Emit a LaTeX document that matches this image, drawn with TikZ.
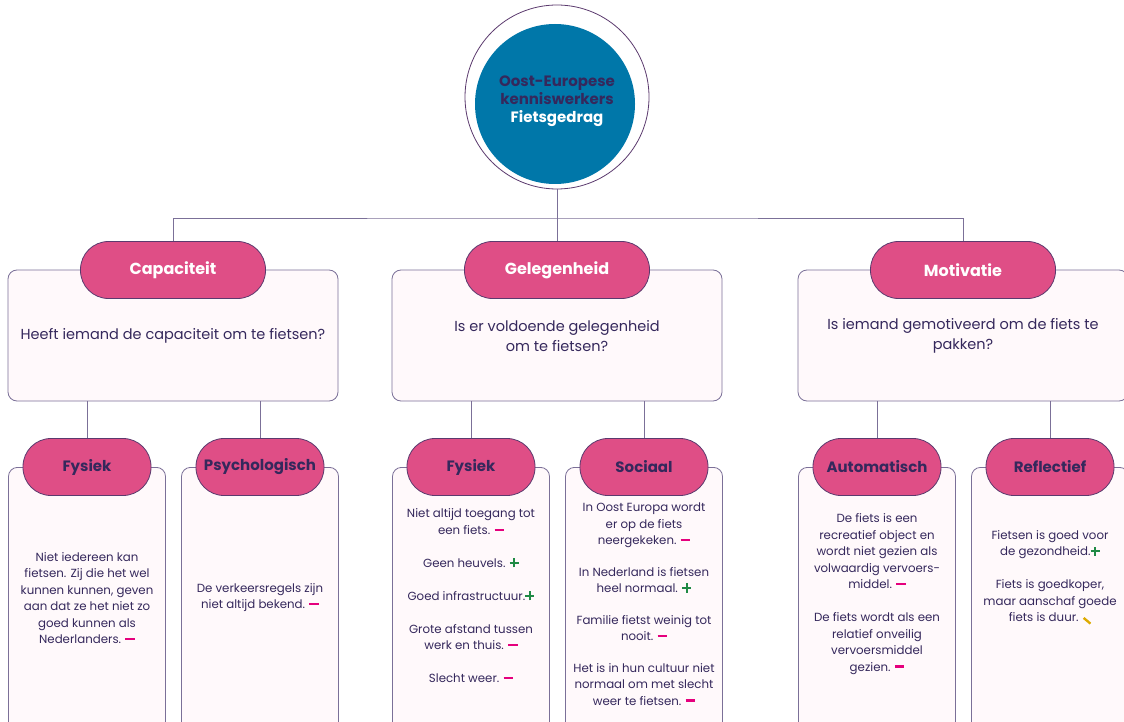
\documentclass[tikz,border=0pt]{standalone}
\usepackage{fontspec}
\setmainfont{Poppins}
\definecolor{kernblauw}{HTML}{0077A9}
\definecolor{pilroze}{HTML}{DF4E86}
\definecolor{pilrand}{HTML}{5B3A6E}
\definecolor{vakkleur}{HTML}{FFF9FB}
\definecolor{randkleur}{HTML}{7B7098}
\definecolor{tekstpaars}{HTML}{35285C}
\definecolor{minroze}{HTML}{E5007D}
\definecolor{plusgroen}{HTML}{1F8A45}
\definecolor{twijfelgeel}{HTML}{DDAA00}
% plus, min en twijfel achter een uitspraak
\newcommand{\minteken}{\textcolor{minroze}{\rule[0.3em]{0.8em}{0.19em}}}
\newcommand{\plusteken}{\textcolor{plusgroen}{\rule[0.3em]{0.78em}{0.18em}\kern-0.48em\rule[0.0em]{0.18em}{0.78em}\kern0.3em}}
\newcommand{\twijfelteken}{\textcolor{twijfelgeel}{\rotatebox[origin=c]{-40}{\rule{0.75em}{0.2em}}}}
\begin{document}
\begin{tikzpicture}[x=1pt,y=-1pt,
  every node/.style={text=tekstpaars},
  lijn/.style={draw=randkleur,line width=0.8pt},
  vak/.style={draw=randkleur,fill=vakkleur,line width=0.8pt,rounded corners=9pt,inner sep=0pt},
  pil/.style={draw=pilrand,fill=pilroze,line width=0.8pt,rounded corners=28pt,minimum width=185pt,minimum height=57pt,
    font=\fontsize{16}{19}\selectfont\bfseries,text=white},
  subpil/.style={pil,minimum width=128pt,font=\fontsize{15}{18}\selectfont\bfseries,text=tekstpaars},
  vraag/.style={align=center,font=\fontsize{14.5}{19.5}\selectfont},
  uitleg/.style={align=center,font=\fontsize{11.8}{16.5}\selectfont}]
\useasboundingbox (0,0) rectangle (1124,722);
\fill[white] (0,0) rectangle (1124,722);

% kern bovenaan
\node[circle,draw=pilrand,line width=0.8pt,minimum size=184pt] (ring) at (557,97) {};
\node[circle,fill=kernblauw,minimum size=160pt] (kern) at (555,104) {};
\node[align=center,font=\fontsize{15}{18}\selectfont\bfseries] (kerntekst) at (557,101)
  {Oost-Europese\\kenniswerkers\\\textcolor{white}{Fietsgedrag}};

% drie hoofdvragen
\foreach \naam/\x/\titel/\tekst in {cap/173/Capaciteit/{Heeft iemand de capaciteit om te fietsen?},
    gel/557/Gelegenheid/{Is er voldoende gelegenheid\\om te fietsen?},
    mot/963/Motivatie/{Is iemand gemotiveerd om de fiets te\\pakken?}}
{\node[vak,minimum width=330pt,minimum height=131pt] (\naam-vak) at (\x,335.5) {};
 \node[vraag] (\naam-vraag) at (\x,336) {\tekst};
 \node[pil] (\naam) at (\x,270) {\titel};}

\coordinate (splitsing) at (557,218);
\draw[lijn] (ring.south) -- (gel.north);
\draw[lijn] (cap.north) |- (splitsing) -| (mot.north);

% deelvakken
\foreach \naam/\x/\ouder/\titel in {capfys/87/cap/Fysiek,cappsy/260/cap/Psychologisch,gelfys/471/gel/Fysiek,
    gelsoc/644/gel/Sociaal,motaut/877/mot/Automatisch,motref/1050/mot/Reflectief}
{\node[vak,minimum width=157pt,minimum height=300pt,anchor=north] (\naam-vak) at (\x,467) {};
 \draw[lijn] (\ouder-vak.south -| \x,0) -- (\x,438.5);
 \node[subpil] (\naam) at (\x,467) {\titel};}

\node[uitleg] (capfys-tekst) at (87,598) {Niet iedereen kan\\fietsen. Zij die het wel\\kunnen kunnen, geven\\aan dat ze het niet zo\\goed kunnen als\\Nederlanders. \minteken};
\node[uitleg] (cappsy-tekst) at (260,597.5) {De verkeersregels zijn\\niet altijd bekend. \minteken};
\node[uitleg] (gelfys-tekst) at (471,596) {Niet altijd toegang tot\\een fiets. \minteken\\[16.5pt]
  Geen heuvels. \plusteken\\[16.5pt]Goed infrastructuur.\plusteken\\[16.5pt]
  Grote afstand tussen\\werk en thuis. \minteken\\[16.5pt]Slecht weer. \minteken};
\node[uitleg] (gelsoc-tekst) at (644,604) {In Oost Europa wordt\\er op de fiets\\neergekeken. \minteken\\[15pt]
  In Nederland is fietsen\\heel normaal. \plusteken\\[15pt]Familie fietst weinig tot\\nooit. \minteken\\[15pt]
  Het is in hun cultuur niet\\normaal om met slecht\\weer te fietsen. \minteken};
\node[uitleg] (motaut-tekst) at (877,594) {De fiets is een\\recreatief object en\\wordt niet gezien als\\volwaardig vervoers-\\middel. \minteken\\[16.5pt]
  De fiets wordt als een\\relatief onveilig\\vervoersmiddel\\gezien. \minteken};
\node[uitleg] (motref-tekst) at (1050,577.5) {Fietsen is goed voor\\de gezondheid.\plusteken\\[16.5pt]
  Fiets is goedkoper,\\maar aanschaf goede\\fiets is duur. \twijfelteken};
\end{tikzpicture}
\end{document}
